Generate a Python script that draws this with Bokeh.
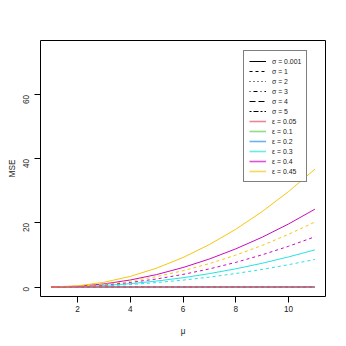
import math
from bokeh.plotting import figure
from bokeh.models import Range1d, FixedTicker, Legend, LegendItem
from bokeh.embed import file_html
from bokeh.resources import INLINE

mu = [1, 2, 3, 4, 5, 6, 7, 8, 9, 10, 11]

# MSE curves (sigma = 0.001 solid, sigma = 1 dashed)
mse_s0_e005 = [0, 0, 0, 0, 0, 0, 0, 0, 0, 0, 0]
mse_s0_e01 = [0, 0, 0, 0, 0, 0, 0, 0, 0, 0, 0]
mse_s0_e02 = [0, 0, 0, 0, 0, 0, 0, 0, 0, 0, 0]
mse_s0_e03 = [0, 0.12, 0.46, 1.04, 1.86, 2.9, 4.18, 5.68, 7.42, 9.4, 11.6]
mse_s0_e04 = [0, 0.24, 0.97, 2.19, 3.89, 6.08, 8.75, 11.91, 15.55, 19.68, 24.3]
mse_s0_e045 = [0, 0.37, 1.47, 3.31, 5.89, 9.2, 13.25, 18.03, 23.55, 29.81, 36.8]

mse_s1_e005 = [0, 0, 0, 0, 0, 0, 0, 0, 0, 0, 0]
mse_s1_e01 = [0, 0, 0, 0, 0, 0, 0, 0, 0, 0, 0]
mse_s1_e02 = [0, 0, 0, 0, 0, 0, 0, 0, 0, 0, 0]
mse_s1_e03 = [0, 0.09, 0.34, 0.77, 1.38, 2.15, 3.1, 4.21, 5.5, 6.97, 8.6]
mse_s1_e04 = [0, 0.16, 0.63, 1.41, 2.51, 3.93, 5.65, 7.69, 10.05, 12.72, 15.7]
mse_s1_e045 = [0, 0.2, 0.81, 1.83, 3.25, 5.08, 7.31, 9.95, 12.99, 16.44, 20.3]

sigma_labels = ["σ = 0.001", "σ = 1", "σ = 2", "σ = 3", "σ = 4", "σ = 5"]
eps_labels = ["ε = 0.05", "ε = 0.1", "ε = 0.2", "ε = 0.3", "ε = 0.4", "ε = 0.45"]
eps_colors = ["#DF536B", "#61D04F", "#2297E6", "#28E2E5", "#CD0BBC", "#F5C710"]
sigma_dashes = ["solid", "3 3", "1 3", "1 3 4 3", "6 3", "2 2 5 2"]

x_ticks = [2, 4, 6, 8, 10]
y_ticks = [0, 20, 40, 60]

p = figure(width=338, height=338, output_backend="svg", toolbar_location=None,
           x_range=Range1d(0.6, 11.4), y_range=Range1d(-2.96, 76.96),
           min_border_left=40, min_border_right=13, min_border_top=40,
           min_border_bottom=42)
p.background_fill_color = "white"
p.border_fill_color = "white"
p.outline_line_color = "black"
p.outline_line_width = 1
p.xgrid.visible = False
p.ygrid.visible = False

p.xaxis.axis_label = "μ"
p.yaxis.axis_label = "MSE"
p.xaxis.ticker = FixedTicker(ticks=x_ticks)
p.yaxis.ticker = FixedTicker(ticks=y_ticks)
p.yaxis.major_label_orientation = math.pi / 2
for ax in (p.xaxis, p.yaxis):
    ax.axis_line_color = None
    ax.major_tick_in = 0
    ax.major_tick_out = 6
    ax.minor_tick_line_color = None
    ax.major_tick_line_color = "black"
    ax.major_label_text_font = "Liberation Sans"
    ax.major_label_text_font_size = "8.2px"
    ax.major_label_text_color = "#222222"
    ax.axis_label_text_font = "Liberation Sans"
    ax.axis_label_text_font_size = "8.2px"
    ax.axis_label_text_font_style = "normal"
    ax.axis_label_text_color = "#222222"
p.yaxis.major_label_standoff = 8
p.yaxis.axis_label_standoff = 1
p.xaxis.major_label_standoff = 3
p.xaxis.axis_label_standoff = 12

series = [
    (mse_s0_e01, 1, 0), (mse_s1_e01, 1, 1),
    (mse_s0_e02, 2, 0), (mse_s1_e02, 2, 1),
    (mse_s1_e03, 3, 1), (mse_s0_e03, 3, 0),
    (mse_s1_e04, 4, 1), (mse_s0_e04, 4, 0),
    (mse_s1_e045, 5, 1), (mse_s0_e045, 5, 0),
    (mse_s1_e005, 0, 1), (mse_s0_e005, 0, 0),
]
for ys, ci, si in series:
    p.line(mu, ys, line_color=eps_colors[ci], line_dash=sigma_dashes[si],
           line_width=1.3 if ci == 0 else 1, line_alpha=0.75 if ci == 0 else 1)

nan = float("nan")
items = []
for lab, dash in zip(sigma_labels, sigma_dashes):
    r = p.line([nan], [nan], line_color="black", line_dash=dash, line_width=1)
    items.append(LegendItem(label=lab, renderers=[r]))
for lab, col in zip(eps_labels, eps_colors):
    r = p.line([nan], [nan], line_color=col, line_width=1.6, line_alpha=0.7)
    items.append(LegendItem(label=lab, renderers=[r]))

legend = Legend(items=items, location=(203, 114), margin=0, padding=5,
                spacing=0, glyph_width=17, glyph_height=10, label_height=10,
                label_standoff=6, label_text_font="Liberation Sans",
                label_text_font_size="6.9px", label_text_color="#222222",
                border_line_color="black", border_line_width=1,
                background_fill_color="white", background_fill_alpha=1)
p.add_layout(legend, "center")

open("out.html", "w").write(file_html(p, INLINE))
